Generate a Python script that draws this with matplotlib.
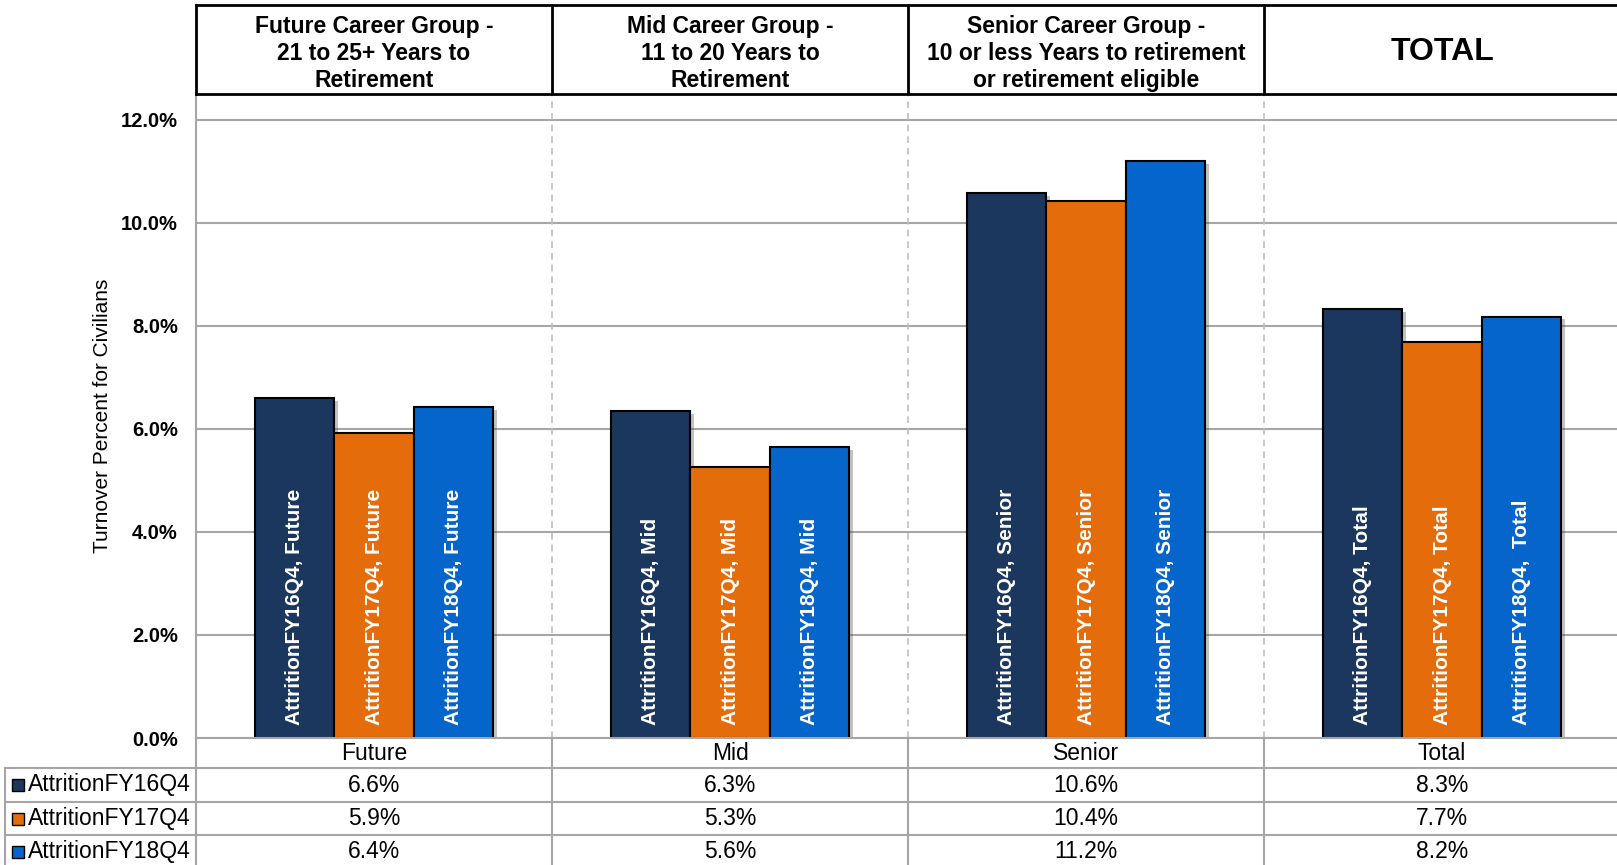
import matplotlib.pyplot as plt
from matplotlib import patheffects
from matplotlib.transforms import blended_transform_factory

plt.rcParams['font.family'] = ['Liberation Sans', 'DejaVu Sans']

groups = ['Future', 'Mid', 'Senior', 'Total']
series = ['AttritionFY16Q4', 'AttritionFY17Q4', 'AttritionFY18Q4']
fy16 = [6.60, 6.34, 10.58, 8.32]
fy17 = [5.92, 5.26, 10.42, 7.68]
fy18 = [6.42, 5.64, 11.20, 8.18]
headers = ['Future Career Group -\n21 to 25+ Years to\nRetirement',
           'Mid Career Group -\n11 to 20 Years to\nRetirement',
           'Senior Career Group -\n10 or less Years to retirement\nor retirement eligible',
           'TOTAL']
yticks = [0, 2, 4, 6, 8, 10, 12]
colors = ['#1B375E', '#E46C0A', '#0665CB']

values = [fy16, fy17, fy18]

W, H = 1617, 865
fig = plt.figure(figsize=(W / 100, H / 100), dpi=100)


def px_axes(x0, y0, x1, y1):
    # axes from pixel box (top-left origin)
    return fig.add_axes([x0 / W, 1 - y1 / H, (x1 - x0) / W, (y1 - y0) / H])


grid_col = '#A6A6A6'

# main bar plot
ax = px_axes(196, 94, 1620, 738)
ax.set_xlim(-0.5, 3.5)
ax.set_ylim(0, 12.5)
ax.set_axisbelow(True)
for s in ['top', 'right', 'bottom']:
    ax.spines[s].set_visible(False)
ax.spines['left'].set_color(grid_col)
ax.spines['left'].set_linewidth(1.5)
ax.set_yticks(yticks)
ax.set_yticklabels([f'{t:.1f}%' for t in yticks], fontweight='bold', fontsize=14.5)
ax.tick_params(axis='y', length=0, pad=13)
ax.set_xticks([])
ax.yaxis.grid(True, color=grid_col, linewidth=1.5)
for d in [0.5, 1.5, 2.5]:
    ax.axvline(d, color='#BFBFBF', linestyle=(0, (4, 3)), linewidth=1.2, zorder=1)

bw = 0.223
shadow = [patheffects.SimplePatchShadow(offset=(3, -2), shadow_rgbFace='#555555', alpha=0.35),
          patheffects.Normal()]
for j, (name, vals) in enumerate(zip(series, values)):
    xs = [i + (j - 1) * bw for i in range(len(groups))]
    bars = ax.bar(xs, vals, width=bw, color=colors[j], edgecolor='black', linewidth=1.5, zorder=3)
    for b in bars:
        b.set_path_effects(shadow)
    for x, g in zip(xs, groups):
        sep = ',  ' if (j == 2 and g == 'Total') else ', '
        ax.text(x, 0.25, name + sep + g, rotation=90, ha='center', va='bottom',
                color='white', fontweight='bold', fontsize=15, zorder=4)

fig.text(103 / W, 1 - 416 / H, 'Turnover Percent for Civilians', rotation=90,
         ha='center', va='center', fontsize=15)

# header boxes
hx = px_axes(196, 5, 1620, 94)
hx.set_xlim(-0.5, 3.5)
hx.set_ylim(0, 1)
hx.set_xticks([])
hx.set_yticks([])
for s in hx.spines.values():
    s.set_linewidth(2)
    s.set_color('black')
for d in [0.5, 1.5, 2.5]:
    hx.axvline(d, color='black', linewidth=2)
for i, h in enumerate(headers):
    if h == 'TOTAL':
        hx.text(i, 0.47, h, ha='center', va='center', fontweight='bold', fontsize=23)
    else:
        hx.text(i, 0.45, h, ha='center', va='center', fontweight='bold', fontsize=16.5,
                linespacing=1.22)

# data table under the chart
tx = px_axes(196, 738, 1620, 868)
tx.set_xlim(-0.5, 3.5)
tx.set_ylim(130, 0)
tx.axis('off')
ft = blended_transform_factory(fig.transFigure, tx.transData)
rows = [0, 30, 64, 97, 130]
kw = dict(color=grid_col, linewidth=1.5, clip_on=False)
tx.plot([-0.5, 3.5], [0, 0], **kw)
for r in rows[1:4]:
    tx.plot([5 / W, 1.01], [r, r], transform=ft, **kw)
tx.plot([5 / W, 5 / W], [30, 130], transform=ft, **kw)
for d in [-0.5, 0.5, 1.5, 2.5]:
    tx.plot([d, d], [0, 130], **kw)

for i, g in enumerate(groups):
    tx.text(i, 15, g, ha='center', va='center', fontsize=16.5)
for j, (name, vals) in enumerate(zip(series, values)):
    yc = (rows[j + 1] + rows[j + 2]) / 2
    tx.plot([17.5 / W], [yc], transform=ft, marker='s', markersize=8,
            markerfacecolor=colors[j], markeredgecolor='black', markeredgewidth=1,
            clip_on=False)
    tx.text(28 / W, yc, name, transform=ft, ha='left', va='center', fontsize=16.5)
    for i, v in enumerate(vals):
        tx.text(i, yc, f'{v:.1f}%', ha='center', va='center', fontsize=16.5)

fig.savefig('out.png', dpi=100)
